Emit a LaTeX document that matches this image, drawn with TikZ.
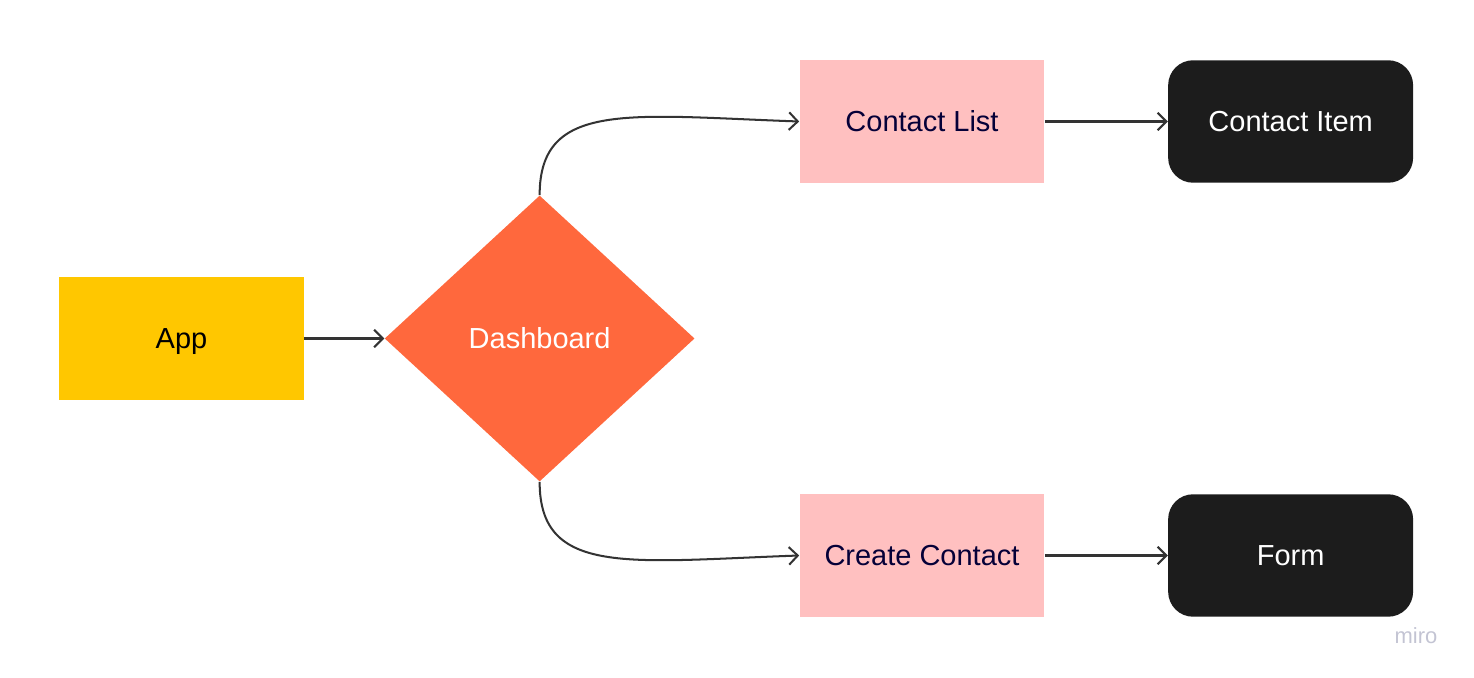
\documentclass[tikz,border=0pt]{standalone}
\usepackage{fontspec}
\setmainfont{Liberation Sans}
\usepackage{xcolor}
\usetikzlibrary{positioning, arrows.meta, shapes.geometric}
\definecolor{appyellow}{HTML}{FFC700}
\definecolor{dashorange}{HTML}{FF683D}
\definecolor{listpink}{HTML}{FFC0C0}
\definecolor{itemblack}{HTML}{1C1C1C}
\definecolor{navytext}{HTML}{050038}
\definecolor{linegray}{HTML}{333333}
\definecolor{mirogray}{HTML}{C3C4D3}

\begin{document}
\begin{tikzpicture}[
    x=0.02cm, y=-0.02cm,
    node distance=1.6cm and 1.6cm,
    box/.style={
        inner sep=0pt,
        align=center,
        font=\fontsize{16.5}{19}\selectfont,
        minimum width=4.9cm,
        minimum height=2.45cm
    },
    pinkbox/.style={box, fill=listpink, text=navytext},
    darkbox/.style={box, fill=itemblack, text=white, rounded corners=0.5cm},
    arrow/.style={-{Straight Barb[length=5pt,width=10pt]}, line width=1.15pt, draw=linegray}
]
\useasboundingbox (0,0) rectangle (1474,678);

%  Nodes
\node (app) [box, fill=appyellow, text=black, text depth=0pt] at (181.5,338.5) {App};
\node (dash) [right=1.6cm of app, shape=diamond, fill=dashorange, text=white,
    inner sep=0pt, font=\fontsize{16.5}{19}\selectfont,
    minimum width=6.2cm, minimum height=5.72cm] {Dashboard};
\node (clist) [pinkbox] at (922,121.5) {Contact List};
\node (create) [pinkbox] at (922,555.5) {Create Contact};
\node (item) [darkbox, right=2.46cm of clist] {Contact Item};
\node (form) [darkbox, right=2.46cm of create] {Form};
\node (miro) [text=mirogray, font=\fontsize{12.5}{14}\selectfont] at (1416,636) {miro};

%  Arrows
\draw[arrow] (app) -- (dash);
\draw[arrow] (dash.north) .. controls +(0,-95) and +(-170,-6) .. (clist.west);
\draw[arrow] (dash.south) .. controls +(0,95) and +(-170,6) .. (create.west);
\draw[arrow] (clist) -- (item);
\draw[arrow] (create) -- (form);

\end{tikzpicture}
\end{document}
